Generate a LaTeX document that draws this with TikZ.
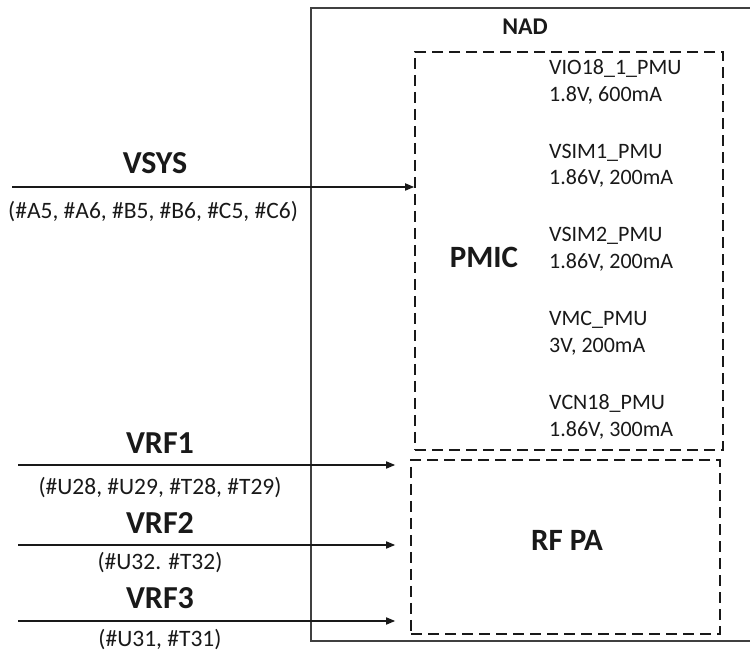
\documentclass[tikz,border=0pt]{standalone}
\usepackage{fontspec}
\setmainfont{Carlito}
\usetikzlibrary{arrows.meta,calc,positioning}
\definecolor{boxgray}{rgb}{0.25,0.25,0.25}
\definecolor{ink}{rgb}{0.1,0.1,0.1}

\tikzset{
  block/.style={draw=ink, line width=1.6pt, dash pattern=on 11pt off 6pt, inner sep=0pt},
  feed/.style={-{Triangle[length=9pt,width=7pt]}, line width=1.6pt, ink},
  railname/.style={font=\bfseries\fontsize{32}{36}\selectfont, text=ink},
  blockname/.style={font=\bfseries\fontsize{31}{35}\selectfont, text=ink},
  pins/.style={font=\fontsize{23.5}{27}\selectfont, text=ink},
  rail/.style={font=\fontsize{22}{26.5}\selectfont, text=ink, align=left, anchor=west, inner sep=0pt}
}

\begin{document}
\begin{tikzpicture}[x=1pt,y=1pt]
  \useasboundingbox (0,0) rectangle (750,655);
  % NAD module outline (runs off the right edge)
  \draw[boxgray, line width=2pt] (760,647) -| (311,14) -- (760,14);
  \node (nad) at (525,628) [font=\bfseries\fontsize{24}{28}\selectfont, text=ink] {NAD};

  \node[block, minimum width=308, minimum height=398] (pmic) at (569,404) {};
  \node[block, minimum width=309, minimum height=174] (rfpa) at (565.5,108) {};
  \node (pmiclabel) at (484,398) [blockname] {PMIC};
  \node (rfpalabel) at (567,115) [blockname] {RF PA};

  % PMIC outputs
  \foreach \name/\spec [count=\i] in {VIO18\_1\_PMU/{1.8V, 600mA},
      VSIM1\_PMU/{1.86V, 200mA}, VSIM2\_PMU/{1.86V, 200mA},
      VMC\_PMU/{3V, 200mA}, VCN18\_PMU/{1.86V, 300mA}}
    \node (out\i) at (549,{573-83.75*(\i-1)}) [rail] {\name\\\spec};

  \coordinate (S) at (12,468);
  \coordinate (A) at (18,190);
  \coordinate (B) at (18,110);
  \coordinate (C) at (18,34);

  \draw [feed] (S) -- (S -| pmic.west);
  \node (vsys) at (155,492) [railname] {VSYS};
  \node (vsyspins) at (153,443) [pins] {(\#A5, \#A6, \#B5, \#B6, \#C5, \#C6)};

  \draw [feed] (A) -- ([xshift=-15pt]A -| rfpa.west);
  \node (vrf1) at (160,212) [railname] {VRF1};
  \node (vrf1pins) at (160,167) [pins] {(\#U28, \#U29, \#T28, \#T29)};

  \draw [feed] (B) -- ([xshift=-15pt]B -| rfpa.west);
  \node (vrf2) at (160,132) [railname] {VRF2};
  \node (vrf2pins) at (160,92) [pins] {(\#U32. \#T32)};

  \draw [feed] (C) -- ([xshift=-15pt]C -| rfpa.west);
  \node (vrf3) at (160,57) [railname] {VRF3};
  \node (vrf3pins) at (160,15) [pins] {(\#U31, \#T31)};
\end{tikzpicture}
\end{document}
